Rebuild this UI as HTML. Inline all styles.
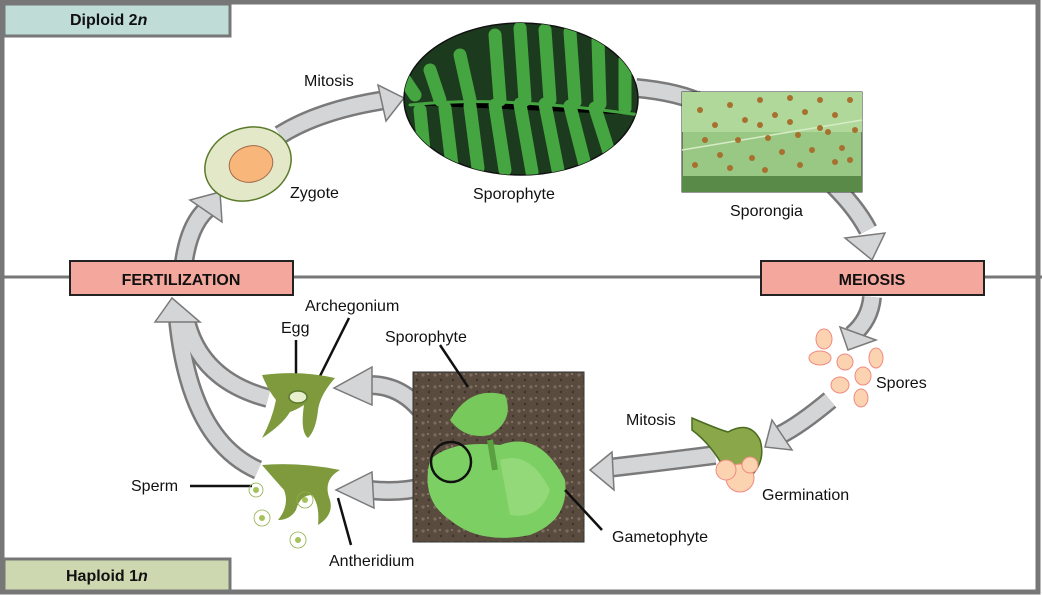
<!DOCTYPE html>
<html><head><meta charset="utf-8"><style>
html,body{margin:0;padding:0;background:#fff}
svg{display:block}
text{font-family:"Liberation Sans",sans-serif;font-size:16px;fill:#111}
.b{font-weight:bold}
</style></head><body>
<svg width="1042" height="595" viewBox="0 0 1042 595" xmlns="http://www.w3.org/2000/svg">
<defs>
<clipPath id="fc"><ellipse cx="521" cy="99" rx="117" ry="76"/></clipPath>
<clipPath id="gc"><rect x="413" y="372" width="171" height="170"/></clipPath>
<pattern id="soil" width="12" height="12" patternUnits="userSpaceOnUse">
<rect width="12" height="12" fill="#5a4b3f"/>
<circle cx="3" cy="3" r="1.6" fill="#7d6c5d"/><circle cx="9" cy="8" r="1.2" fill="#3e332b"/><circle cx="8" cy="2" r="1" fill="#8e7d6c"/>
</pattern>
</defs>
<rect x="0" y="0" width="1042" height="595" fill="#fff"/>
<rect x="2" y="2" width="1036" height="590" fill="none" stroke="#777" stroke-width="5"/>
<line x1="0" y1="277" x2="1042" y2="277" stroke="#777" stroke-width="3"/>
<rect x="4" y="4" width="226" height="32" fill="#bfdcd7" stroke="#777" stroke-width="3"/>
<text x="70" y="25" class="b">Diploid 2<tspan font-style="italic">n</tspan></text>
<rect x="4" y="559" width="226" height="32" fill="#cdd8b1" stroke="#777" stroke-width="3"/>
<text x="66" y="581" class="b">Haploid 1<tspan font-style="italic">n</tspan></text>

<g fill="none" stroke-linecap="butt">
<g stroke="#7a7a7a" stroke-width="20">
<path d="M184 262 Q190 220 212 205"/>
<path d="M280 135 Q320 110 385 100"/>
<path d="M636 88 Q680 92 705 105"/>
<path d="M826 178 Q855 205 868 230"/>
<path d="M872 297 Q870 320 852 335"/>
<path d="M830 400 Q800 425 780 435"/>
<path d="M715 455 Q660 462 608 468"/>
<path d="M445 455 Q420 385 370 385"/>
<path d="M450 475 Q420 495 370 490"/>
<path d="M268 398 Q200 380 186 320"/>
<path d="M258 470 Q190 440 178 320"/>
</g>
<g stroke="#d4d5d7" stroke-width="15">
<path d="M184 262 Q190 220 212 205"/>
<path d="M280 135 Q320 110 385 100"/>
<path d="M636 88 Q680 92 705 105"/>
<path d="M826 178 Q855 205 868 230"/>
<path d="M872 297 Q870 320 852 335"/>
<path d="M830 400 Q800 425 780 435"/>
<path d="M715 455 Q660 462 608 468"/>
<path d="M445 455 Q420 385 370 385"/>
<path d="M450 475 Q420 495 370 490"/>
<path d="M268 398 Q200 380 186 320"/>
<path d="M258 470 Q190 440 178 320"/>
</g>
</g>
<g fill="#d4d5d7" stroke="#7a7a7a" stroke-width="1.5">
<polygon points="190,200 220,192 222,222"/>
<polygon points="378,85 404,98 386,121"/>
<polygon points="700,92 726,117 700,124"/>
<polygon points="845,238 885,233 872,260"/>
<polygon points="840,327 876,340 848,350"/>
<polygon points="772,420 765,447 792,450"/>
<polygon points="612,452 590,470 614,490"/>
<polygon points="372,367 334,388 372,405"/>
<polygon points="372,472 336,490 374,508"/>
<polygon points="155,322 172,298 200,322"/>
</g>

<rect x="70" y="261" width="223" height="34" fill="#f4a79d" stroke="#222" stroke-width="2"/>
<text x="181" y="285" class="b" text-anchor="middle">FERTILIZATION</text>
<rect x="761" y="261" width="223" height="34" fill="#f4a79d" stroke="#222" stroke-width="2"/>
<text x="872" y="285" class="b" text-anchor="middle">MEIOSIS</text>

<ellipse cx="248" cy="164" rx="44" ry="36" transform="rotate(-20 248 164)" fill="#e2e8c8" stroke="#5a7a2a" stroke-width="1.5"/>
<ellipse cx="251" cy="164" rx="22" ry="18" transform="rotate(-15 251 164)" fill="#f9b67a" stroke="#a06a4a" stroke-width="1"/>
<text x="290" y="198">Zygote</text>
<text x="304" y="86">Mitosis</text>

<ellipse cx="521" cy="99" rx="117" ry="76" fill="#1c3a1e" stroke="#111" stroke-width="1.5"/>
<g clip-path="url(#fc)" stroke="#45a540" stroke-width="13" stroke-linecap="round">
<path d="M410 105 Q500 95 640 115" stroke-width="3"/>
<line x1="420" y1="110" x2="425" y2="160"/><line x1="445" y1="108" x2="452" y2="165"/>
<line x1="470" y1="106" x2="478" y2="168"/><line x1="495" y1="105" x2="505" y2="170"/>
<line x1="520" y1="104" x2="532" y2="172"/><line x1="545" y1="104" x2="558" y2="170"/>
<line x1="570" y1="106" x2="585" y2="165"/><line x1="595" y1="108" x2="610" y2="155"/>
<line x1="500" y1="100" x2="495" y2="35"/><line x1="525" y1="100" x2="520" y2="28"/>
<line x1="550" y1="100" x2="545" y2="30"/><line x1="575" y1="102" x2="570" y2="32"/>
<line x1="600" y1="104" x2="598" y2="40"/><line x1="625" y1="108" x2="625" y2="60"/>
<line x1="470" y1="100" x2="460" y2="55"/><line x1="440" y1="100" x2="430" y2="70"/>
<line x1="415" y1="95" x2="405" y2="80"/>
</g>
<text x="473" y="199">Sporophyte</text>

<rect x="682" y="92" width="180" height="100" fill="#99c884" stroke="#333" stroke-width="1"/>
<rect x="682" y="92" width="180" height="40" fill="#b0d89a"/>
<rect x="682" y="176" width="180" height="16" fill="#5a8a48"/>
<line x1="682" y1="150" x2="862" y2="120" stroke="#d6ecc6" stroke-width="1.5"/>
<g fill="#a8702f">
<circle cx="700" cy="110" r="3"/><circle cx="715" cy="125" r="3"/><circle cx="730" cy="105" r="3"/><circle cx="745" cy="120" r="3"/><circle cx="760" cy="100" r="3"/><circle cx="775" cy="115" r="3"/><circle cx="790" cy="98" r="3"/><circle cx="805" cy="112" r="3"/><circle cx="820" cy="100" r="3"/><circle cx="835" cy="115" r="3"/><circle cx="850" cy="100" r="3"/>
<circle cx="705" cy="140" r="3"/><circle cx="720" cy="155" r="3"/><circle cx="738" cy="140" r="3"/><circle cx="752" cy="158" r="3"/><circle cx="768" cy="138" r="3"/><circle cx="782" cy="152" r="3"/><circle cx="798" cy="135" r="3"/><circle cx="812" cy="150" r="3"/><circle cx="828" cy="132" r="3"/><circle cx="842" cy="148" r="3"/><circle cx="855" cy="130" r="3"/>
<circle cx="695" cy="165" r="3"/><circle cx="730" cy="168" r="3"/><circle cx="765" cy="170" r="3"/><circle cx="800" cy="165" r="3"/><circle cx="835" cy="162" r="3"/>
<circle cx="760" cy="125" r="3"/><circle cx="790" cy="122" r="3"/><circle cx="820" cy="128" r="3"/><circle cx="850" cy="160" r="3"/>
</g>
<text x="730" y="216">Sporongia</text>

<g fill="#fcd3b0" stroke="#f08a80" stroke-width="1">
<ellipse cx="824" cy="339" rx="8" ry="10"/><ellipse cx="820" cy="358" rx="11" ry="7"/>
<ellipse cx="845" cy="362" rx="8" ry="8"/><ellipse cx="876" cy="358" rx="7" ry="10"/>
<ellipse cx="863" cy="376" rx="8" ry="9"/><ellipse cx="840" cy="385" rx="9" ry="8"/>
<ellipse cx="861" cy="398" rx="7" ry="9"/>
</g>
<text x="876" y="388">Spores</text>

<path d="M692 418 Q720 430 728 432 Q750 420 760 440 Q766 460 752 475 L725 470 Q712 445 692 430 Z" fill="#8aa84a" stroke="#4a6a20" stroke-width="1.5"/>
<g fill="#fcd3b0" stroke="#f08a80" stroke-width="1">
<circle cx="740" cy="478" r="14"/><circle cx="726" cy="470" r="10"/><circle cx="750" cy="465" r="8"/>
</g>
<text x="626" y="425">Mitosis</text>
<text x="762" y="500">Germination</text>

<rect x="413" y="372" width="171" height="170" fill="url(#soil)" stroke="#333" stroke-width="1"/>
<g clip-path="url(#gc)">
<path d="M450 420 Q470 385 505 395 Q515 420 490 435 Q465 440 450 420Z" fill="#76c95a"/>
<path d="M430 460 Q450 440 500 445 Q540 430 565 480 Q570 520 530 535 Q480 545 450 520 Q420 500 430 460Z" fill="#7cd063"/>
<path d="M490 440 L495 470" stroke="#5aa040" stroke-width="6"/>
<path d="M500 460 Q530 450 550 490 Q540 520 510 515Z" fill="#93d97a"/>
</g>
<circle cx="451" cy="462" r="20" fill="none" stroke="#111" stroke-width="2.5"/>
<g stroke="#111" stroke-width="2.5">
<line x1="440" y1="345" x2="468" y2="387"/>
<line x1="565" y1="490" x2="602" y2="530"/>
<line x1="296" y1="340" x2="296" y2="392"/>
<line x1="349" y1="318" x2="318" y2="380"/>
<line x1="190" y1="486" x2="252" y2="486"/>
<line x1="338" y1="498" x2="351" y2="545"/>
</g>
<text x="385" y="342">Sporophyte</text>
<text x="612" y="542">Gametophyte</text>

<path d="M262 375 Q300 370 335 378 Q320 395 318 410 Q316 430 308 438 Q300 432 304 405 Q296 410 290 412 Q282 425 262 438 Q272 420 276 400 Q268 390 262 375Z" fill="#7e9a3c"/>
<ellipse cx="298" cy="397" rx="9" ry="6" fill="#e8efcf" stroke="#5a7a2a" stroke-width="1.5"/>
<text x="281" y="333">Egg</text>
<text x="305" y="311">Archegonium</text>

<path d="M262 465 Q300 462 340 470 Q322 480 330 500 Q334 515 318 525 Q320 505 312 495 Q300 495 296 510 Q290 520 278 520 Q290 505 284 490 Q275 480 262 465Z" fill="#7e9a3c"/>
<g stroke="#8fae4a" stroke-width="0.8" fill="none">
<circle cx="256" cy="490" r="7"/><circle cx="262" cy="518" r="8"/><circle cx="298" cy="540" r="8"/><circle cx="305" cy="500" r="8"/>
</g>
<g fill="#a4c25a">
<circle cx="256" cy="490" r="3"/><circle cx="262" cy="518" r="3"/><circle cx="298" cy="540" r="3"/><circle cx="305" cy="500" r="3"/>
</g>
<text x="131" y="491">Sperm</text>
<text x="329" y="566">Antheridium</text>
</svg>
</body></html>
